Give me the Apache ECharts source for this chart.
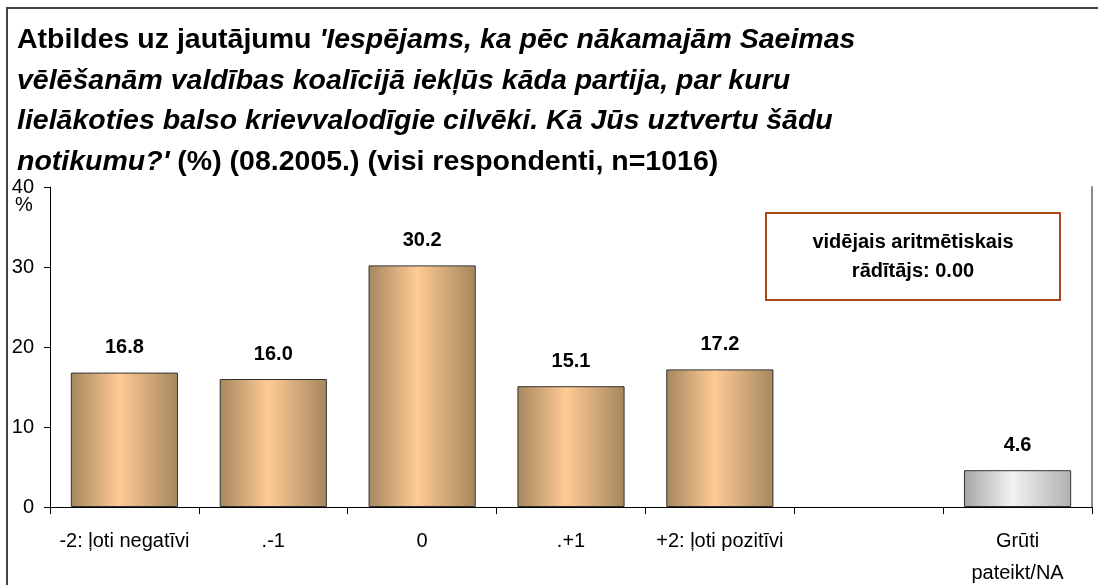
<!DOCTYPE html>
<html>
<head>
<meta charset="utf-8">
<script src="https://cdn.jsdelivr.net/npm/echarts@6/dist/echarts.min.js"></script>
<style>
  html, body { margin: 0; padding: 0; background: #fff; }
  #chart { width: 1098px; height: 585px; }
</style>
</head>
<body>
<div id="chart"></div>
<script>
// dati
const categories = ['-2: ļoti negatīvi', '.-1', '0', '.+1', '+2: ļoti pozitīvi', '', 'Grūti\npateikt/NA']
const values = [16.8, 16.0, 30.2, 15.1, 17.2, null, 4.6]
const naIndex = 6
const yTicks = [0, 10, 20, 30, 40]
const meanText = 'vidējais aritmētiskais\nrādītājs: 0.00'

const font = 'Liberation Sans, Arial, sans-serif'

const brown = {
  type: 'linear', x: 0, y: 0, x2: 1, y2: 0,
  colorStops: [
    { offset: 0, color: '#a5875f' },
    { offset: 0.45, color: '#ffca94' },
    { offset: 1, color: '#a5875f' }
  ]
}
const grey = {
  type: 'linear', x: 0, y: 0, x2: 1, y2: 0,
  colorStops: [
    { offset: 0, color: '#a6a6a6' },
    { offset: 0.45, color: '#f2f2f2' },
    { offset: 1, color: '#b0b0b0' }
  ]
}

const barData = values.map((v, i) => ({
  value: v,
  itemStyle: { color: i === naIndex ? grey : brown }
}))

const myChart = echarts.init(document.getElementById('chart'))

myChart.setOption({
  animation: false,
  textStyle: { fontFamily: font },
  title: {
    left: 12,
    top: 15,
    text: "{n|Atbildes uz jautājumu }{i|'Iespējams, ka pēc nākamajām Saeimas}\n" +
      '{i|vēlēšanām valdības koalīcijā iekļūs kāda partija, par kuru}\n' +
      '{i|lielākoties balso krievvalodīgie cilvēki. Kā Jūs uztvertu šādu}\n' +
      "{i|notikumu?'}{n| (%) (08.2005.) (visi respondenti, n=1016)}",
    textStyle: {
      rich: {
        n: { fontFamily: font, fontSize: 28.5, fontWeight: 'bold', color: '#000', lineHeight: 40.5 },
        i: { fontFamily: font, fontSize: 28.5, fontWeight: 'bold', fontStyle: 'italic', color: '#000', lineHeight: 40.5 }
      }
    }
  },
  grid: { left: 50, right: 6, top: 187, bottom: 78, containLabel: false, outerBoundsMode: 'none' },
  xAxis: [
    {
      type: 'category',
      data: categories,
      axisLine: { lineStyle: { color: '#000', width: 1 } },
      axisTick: { show: true, length: 7, lineStyle: { color: '#000' }, alignWithLabel: false },
      axisLabel: { color: '#000', fontSize: 20, margin: 18, lineHeight: 32, interval: 0 }
    },
    {
      type: 'category',
      data: categories,
      position: 'top',
      axisLine: { lineStyle: { color: '#000', width: 1 } },
      axisTick: { show: false },
      axisLabel: { show: false }
    }
  ],
  yAxis: [
    {
      type: 'value',
      min: yTicks[0],
      max: yTicks[yTicks.length - 1],
      interval: 10,
      splitLine: { show: false },
      axisLine: { show: true, lineStyle: { color: '#000' } },
      axisTick: { show: true, length: 6, lineStyle: { color: '#000' } },
      axisLabel: { color: '#000', fontSize: 20, margin: 16 }
    },
    {
      type: 'value',
      position: 'right',
      min: 0,
      max: 40,
      splitLine: { show: false },
      axisLine: { show: true, lineStyle: { color: '#8c8c8c', width: 2 } },
      axisTick: { show: false },
      axisLabel: { show: false }
    }
  ],
  series: [
    {
      type: 'bar',
      data: barData,
      barCategoryGap: '28%',
      itemStyle: { borderColor: '#333', borderWidth: 1 },
      label: {
        show: true,
        position: 'top',
        distance: 15,
        color: '#000',
        fontSize: 20,
        fontWeight: 'bold',
        formatter: p => p.value == null ? '' : Number(p.value).toFixed(1)
      }
    }
  ],
  graphic: [
    {
      type: 'rect',
      silent: true,
      shape: { x: 7, y: 8, width: 1200, height: 700 },
      style: { fill: null, stroke: '#444', lineWidth: 2 }
    },
    {
      type: 'text',
      left: 15,
      top: 195,
      style: { text: '%', fontFamily: font, fontSize: 20, fill: '#000' }
    },
    {
      type: 'group',
      left: 765,
      top: 212,
      children: [
        {
          type: 'rect',
          shape: { x: 0, y: 0, width: 294, height: 87 },
          style: { fill: '#fff', stroke: '#a8461a', lineWidth: 2 }
        },
        {
          type: 'text',
          x: 147,
          y: 44,
          style: {
            text: meanText,
            fontFamily: font,
            fontSize: 20,
            fontWeight: 'bold',
            lineHeight: 29,
            fill: '#000',
            align: 'center',
            verticalAlign: 'middle'
          }
        }
      ]
    }
  ]
})
</script>
</body>
</html>
